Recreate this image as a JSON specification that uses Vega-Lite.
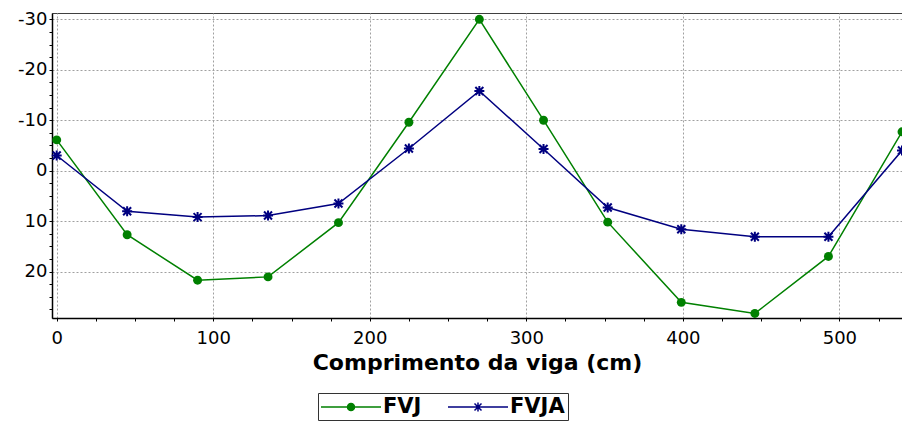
{
  "$schema": "https://vega.github.io/schema/vega-lite/v6.json",
  "width": 850,
  "height": 305,
  "autosize": {"type": "none"},
  "padding": {"left": 52, "top": 13, "right": 0, "bottom": 103},
  "background": "white",
  "config": {"view": {"stroke": "#404040", "strokeWidth": 1}, "font": "DejaVu Sans"},
  "data": {
    "values": [
      {"x": 0, "series": "FVJ", "v": -6.1},
      {"x": 45, "series": "FVJ", "v": 12.7},
      {"x": 90, "series": "FVJ", "v": 21.7},
      {"x": 135, "series": "FVJ", "v": 21.05},
      {"x": 180, "series": "FVJ", "v": 10.3},
      {"x": 225, "series": "FVJ", "v": -9.6},
      {"x": 270, "series": "FVJ", "v": -30.0},
      {"x": 311, "series": "FVJ", "v": -10.0},
      {"x": 352, "series": "FVJ", "v": 10.2},
      {"x": 399, "series": "FVJ", "v": 26.1},
      {"x": 446, "series": "FVJ", "v": 28.3},
      {"x": 493, "series": "FVJ", "v": 17.0},
      {"x": 540, "series": "FVJ", "v": -7.7},
      {"x": 0, "series": "FVJA", "v": -3.0},
      {"x": 45, "series": "FVJA", "v": 8.05},
      {"x": 90, "series": "FVJA", "v": 9.2},
      {"x": 135, "series": "FVJA", "v": 8.9},
      {"x": 180, "series": "FVJA", "v": 6.5},
      {"x": 225, "series": "FVJA", "v": -4.4},
      {"x": 270, "series": "FVJA", "v": -15.8},
      {"x": 311, "series": "FVJA", "v": -4.3},
      {"x": 352, "series": "FVJA", "v": 7.3},
      {"x": 399, "series": "FVJA", "v": 11.6},
      {"x": 446, "series": "FVJA", "v": 13.1},
      {"x": 493, "series": "FVJA", "v": 13.1},
      {"x": 540, "series": "FVJA", "v": -4.0}
    ]
  },
  "encoding": {
    "x": {
      "field": "x",
      "type": "quantitative",
      "scale": {"domain": [-3, 540], "nice": false, "zero": false},
      "axis": {
        "title": "Comprimento da viga (cm)",
        "values": [0, 25, 50, 75, 100, 125, 150, 175, 200, 225, 250, 275, 300, 325, 350, 375, 400, 425, 450, 475, 500, 525],
        "labelExpr": "datum.value % 100 === 0 ? toString(datum.value) : ''",
        "labelOverlap": false,
        "labelFlush": false,
        "gridOpacity": {"condition": {"test": "datum.value % 100 === 0", "value": 1}, "value": 0},
        "gridColor": "#a0a0a0",
        "gridDash": [2, 2],
        "tickSize": 3,
        "tickColor": "black",
        "domainColor": "black",
        "domainWidth": 1.5,
        "labelFont": "DejaVu Sans",
        "labelFontSize": 18,
        "labelColor": "black",
        "labelPadding": 8,
        "titleFont": "DejaVu Sans",
        "titleFontSize": 22,
        "titleFontWeight": "bold",
        "titleColor": "black",
        "titlePadding": 5
      }
    },
    "y": {
      "field": "v",
      "type": "quantitative",
      "scale": {"domain": [-31.25, 29.2], "nice": false, "zero": false, "reverse": true},
      "axis": {
        "title": null,
        "values": [-30, -27.5, -25, -22.5, -20, -17.5, -15, -12.5, -10, -7.5, -5, -2.5, 0, 2.5, 5, 7.5, 10, 12.5, 15, 17.5, 20, 22.5, 25, 27.5],
        "labelExpr": "datum.value % 10 === 0 ? toString(datum.value) : ''",
        "labelOverlap": false,
        "labelFlush": false,
        "gridOpacity": {"condition": {"test": "datum.value % 10 === 0", "value": 1}, "value": 0},
        "gridColor": "#a0a0a0",
        "gridDash": [2, 2],
        "tickSize": 3,
        "tickColor": "black",
        "domainColor": "black",
        "domainWidth": 1.5,
        "labelFont": "DejaVu Sans",
        "labelFontSize": 18,
        "labelColor": "black",
        "labelPadding": 2
      }
    }
  },
  "layer": [
    {
      "mark": {"type": "line", "strokeWidth": 1.5},
      "encoding": {
        "color": {
          "field": "series",
          "type": "nominal",
          "scale": {"domain": ["FVJ", "FVJA"], "range": ["#008000", "#000080"]}
        }
      }
    },
    {
      "transform": [{"filter": "datum.series === 'FVJ'"}],
      "mark": {"type": "point", "shape": "circle", "filled": true, "size": 80, "color": "#008000", "opacity": 1}
    },
    {
      "transform": [{"filter": "datum.series === 'FVJA'"}],
      "mark": {
        "type": "point",
        "shape": "M-0.8,-0.8L0.8,0.8M-0.8,0.8L0.8,-0.8M0,-1L0,1M-1,0L1,0",
        "filled": false,
        "size": 100,
        "color": "#000080",
        "strokeWidth": 2,
        "opacity": 1
      }
    },
    {
      "mark": {"type": "point", "filled": true, "opacity": 0},
      "encoding": {
        "color": {
          "field": "series",
          "type": "nominal",
          "scale": {"domain": ["FVJ", "FVJA"], "range": ["#008000", "#000080"]},
          "legend": {
            "title": null,
            "orient": "none",
            "legendX": 266,
            "legendY": 380,
            "direction": "horizontal",
            "strokeColor": "#333333",
            "fillColor": "white",
            "padding": 3,
            "symbolSize": 400,
            "symbolStrokeWidth": 1.5,
            "symbolOpacity": 1,
            "symbolOffset": 19,
            "labelFont": "DejaVu Sans",
            "labelFontSize": 21,
            "labelFontWeight": "bold",
            "labelColor": "black",
            "labelOffset": 21,
            "columnPadding": 23
          }
        },
        "stroke": {
          "field": "series",
          "type": "nominal",
          "scale": {"domain": ["FVJ", "FVJA"], "range": ["#008000", "#000080"]},
          "legend": {
            "title": null,
            "orient": "none",
            "legendX": 266,
            "legendY": 380,
            "direction": "horizontal",
            "symbolSize": 400,
            "symbolOpacity": 1
          }
        },
        "shape": {
          "field": "series",
          "type": "nominal",
          "scale": {
            "domain": ["FVJ", "FVJA"],
            "range": [
              "M-3,0H3M-0.35,0A0.35,0.35 0 1,1 0.35,0A0.35,0.35 0 1,1 -0.35,0Z",
              "M-3,0H3M-0.35,-0.35L0.35,0.35M-0.35,0.35L0.35,-0.35M0,-0.45V0.45"
            ]
          },
          "legend": {
            "title": null,
            "orient": "none",
            "legendX": 266,
            "legendY": 380,
            "direction": "horizontal",
            "symbolSize": 400,
            "symbolOpacity": 1
          }
        }
      }
    }
  ]
}
